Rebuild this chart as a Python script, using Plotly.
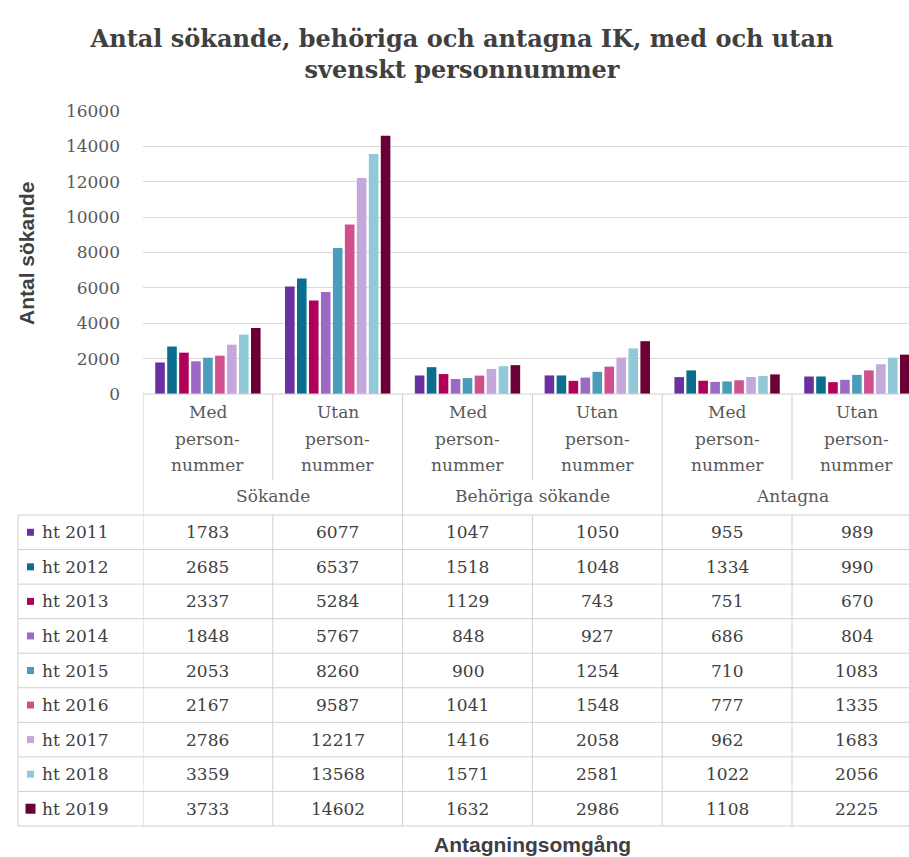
import plotly.graph_objects as go

# ---------------- data ----------------
groups = ["Sökande", "Behöriga sökande", "Antagna"]
subcats = ["Med personnummer", "Utan personnummer"]
categories = [f"{g} – {s}" for g in groups for s in subcats]
cat_label_lines = ["Med|person-|nummer", "Utan|person-|nummer"]

years = ["ht 2011", "ht 2012", "ht 2013", "ht 2014", "ht 2015",
         "ht 2016", "ht 2017", "ht 2018", "ht 2019"]

v2011 = [1783, 6077, 1047, 1050, 955, 989]
v2012 = [2685, 6537, 1518, 1048, 1334, 990]
v2013 = [2337, 5284, 1129, 743, 751, 670]
v2014 = [1848, 5767, 848, 927, 686, 804]
v2015 = [2053, 8260, 900, 1254, 710, 1083]
v2016 = [2167, 9587, 1041, 1548, 777, 1335]
v2017 = [2786, 12217, 1416, 2058, 962, 1683]
v2018 = [3359, 13568, 1571, 2581, 1022, 2056]
v2019 = [3733, 14602, 1632, 2986, 1108, 2225]
series = [v2011, v2012, v2013, v2014, v2015, v2016, v2017, v2018, v2019]

colors = ["#6a2fa0", "#0b6e8e", "#b0005a", "#9a6ac4", "#4a9cbc",
          "#d0508e", "#c4a8dc", "#92c8d8", "#6a0035"]

y_ticks = [0, 2000, 4000, 6000, 8000, 10000, 12000, 14000, 16000]

title_text = "Antal sökande, behöriga och antagna IK, med och utan<br>svenskt personnummer"
y_title = "Antal sökande"
x_title = "Antagningsomgång"

# ---------------- layout geometry (pixels) ----------------
W, H = 909, 857
plot_left, plot_right = 143, 909
plot_top, plot_bottom = 111, 394
col_w = 129.8
table_top, table_bottom = 515, 826
table_left = 18
n_rows = len(years)
row_h = (table_bottom - table_top) / n_rows
plot_h = plot_bottom - plot_top
plot_w = plot_right - plot_left

def py(y):  # pixel y -> paper y
    return (plot_bottom - y) / plot_h

def px(x):  # pixel x -> paper x
    return (x - plot_left) / plot_w

x_max = -0.5 + plot_w / col_w

serif = "DejaVu Serif"
sans = "Liberation Sans, Arial, sans-serif"
grid_c = "#d9d9d9"
line_c = "#d0d0d0"
txt_c = "#595959"
num_c = "#404040"

fig = go.Figure()
for name, vals, c in zip(years, series, colors):
    fig.add_trace(go.Bar(x=categories, y=vals, name=name, marker_color=c,
                         marker_line_width=0, showlegend=False))

shapes = []
annotations = []

# axis base line
shapes.append(dict(type="line", xref="paper", yref="paper", x0=0, x1=1.02,
                   y0=0, y1=0, line=dict(color=line_c, width=1)))
# left border of category header + table
shapes.append(dict(type="line", xref="x", yref="paper", x0=-0.5, x1=-0.5,
                   y0=0, y1=py(table_bottom), line=dict(color=line_c, width=1)))
# table left border
shapes.append(dict(type="line", xref="paper", yref="paper", x0=px(table_left), x1=px(table_left),
                   y0=py(table_top), y1=py(table_bottom), line=dict(color=line_c, width=1)))
# horizontal row lines
for r in range(n_rows + 1):
    yy = py(table_top + r * row_h)
    shapes.append(dict(type="line", xref="paper", yref="paper", x0=px(table_left), x1=1.02,
                       y0=yy, y1=yy, line=dict(color=line_c, width=1)))
# vertical dividers
for i in range(len(categories)):
    xb = i + 0.5
    if i % 2 == 1:  # group divider: full height
        shapes.append(dict(type="line", xref="x", yref="paper", x0=xb, x1=xb,
                           y0=0, y1=py(table_bottom), line=dict(color=line_c, width=1)))
    else:  # sub divider: header part then table part
        shapes.append(dict(type="line", xref="x", yref="paper", x0=xb, x1=xb,
                           y0=0, y1=py(480), line=dict(color=line_c, width=1)))
        shapes.append(dict(type="line", xref="x", yref="paper", x0=xb, x1=xb,
                           y0=py(table_top), y1=py(table_bottom), line=dict(color=line_c, width=1)))

# category labels
line_ys = [412, 439, 465]
for i, cat in enumerate(categories):
    lines = cat_label_lines[i % 2].split("|")
    for ln, yy in zip(lines, line_ys):
        annotations.append(dict(x=i, y=py(yy), xref="x", yref="paper", text=ln,
                                showarrow=False, xanchor="center", yanchor="middle",
                                font=dict(family=serif, size=17, color=txt_c)))
# group labels
for g_i, g in enumerate(groups):
    annotations.append(dict(x=2 * g_i + 0.5, y=py(496), xref="x", yref="paper", text=g,
                            showarrow=False, xanchor="center", yanchor="middle",
                            font=dict(family=serif, size=17, color=txt_c)))

# table rows
for r, (name, vals, c) in enumerate(zip(years, series, colors)):
    yc = table_top + (r + 0.5) * row_h
    s = 10 if r == n_rows - 1 else 7
    shapes.append(dict(type="rect", xref="paper", yref="paper",
                       x0=px(30.5 - s / 2), x1=px(30.5 + s / 2),
                       y0=py(yc + s / 2), y1=py(yc - s / 2),
                       fillcolor=c, line=dict(width=0)))
    annotations.append(dict(x=px(40), y=py(yc), xref="paper", yref="paper", text=name,
                            showarrow=False, xanchor="left", yanchor="middle",
                            font=dict(family=serif, size=17, color=num_c)))
    for i, v in enumerate(vals):
        annotations.append(dict(x=i, y=py(yc), xref="x", yref="paper", text=str(v),
                                showarrow=False, xanchor="center", yanchor="middle",
                                font=dict(family=serif, size=17, color=num_c)))

# axis titles
annotations.append(dict(x=px(26), y=py(253), xref="paper", yref="paper", text=f"<b>{y_title}</b>",
                        textangle=-90, showarrow=False, xanchor="center", yanchor="middle",
                        font=dict(family=sans, size=21, color=num_c)))
annotations.append(dict(x=px(532), y=py(845), xref="paper", yref="paper", text=f"<b>{x_title}</b>",
                        showarrow=False, xanchor="center", yanchor="middle",
                        font=dict(family=sans, size=21, color=num_c)))

fig.update_layout(
    width=W, height=H,
    margin=dict(l=plot_left, r=W - plot_right, t=plot_top, b=H - plot_bottom, pad=0),
    paper_bgcolor="white", plot_bgcolor="white",
    title=dict(text=f"<b>{title_text}</b>", x=462 / W, xanchor="center", y=1 - 47 / H,
               yanchor="middle", font=dict(family=serif, size=24, color=num_c)),
    barmode="group", bargap=0.17, bargroupgap=0.2,
    xaxis=dict(range=[-0.5, x_max], showticklabels=False, showgrid=False,
               zeroline=False, showline=False, ticks=""),
    yaxis=dict(range=[0, 16000], tickvals=y_ticks, tickformat="d", showgrid=True,
               gridcolor=grid_c, gridwidth=1, zeroline=False, showline=False, ticks="",
               ticklabelstandoff=22,
               tickfont=dict(family=serif, size=17, color=txt_c)),
    shapes=shapes, annotations=annotations,
)

fig.write_html("out.html", config={"displayModeBar": False},
               post_script="document.body.style.margin='0';document.body.style.overflow='hidden';")
